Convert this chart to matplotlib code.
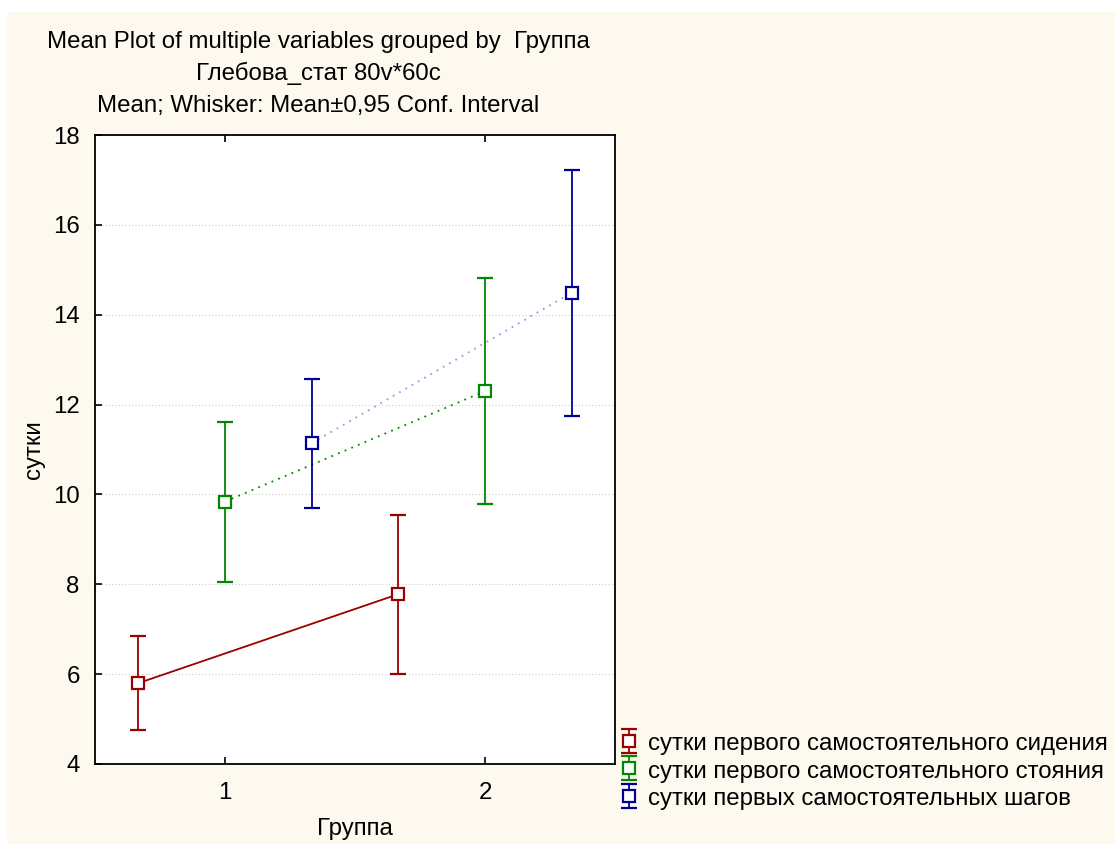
import matplotlib
matplotlib.use("Agg")
import matplotlib.pyplot as plt
from matplotlib.patches import Rectangle
import numpy as np

plt.rcParams['font.family'] = ['Liberation Sans', 'DejaVu Sans']

# group means and 0.95 confidence limits
groups = [1, 2]
series_names = [
    "сутки первого самостоятельного сидения",
    "сутки первого самостоятельного стояния",
    "сутки первых самостоятельных шагов",
]
sit_mean = [5.80, 7.78]
sit_low = [4.75, 6.00]
sit_high = [6.86, 9.55]
stand_mean = [9.84, 12.30]
stand_low = [8.05, 9.79]
stand_high = [11.62, 14.82]
steps_mean = [11.14, 14.49]
steps_low = [9.69, 11.75]
steps_high = [12.58, 17.22]

colors = ["#990000", "#008800", "#000099"]
line_colors = ["#990000", "#008800", "#9999dd"]
line_styles = ["-", (0, (1, 3)), (0, (1, 3))]
offsets = [-1/3, 0, 1/3]

FS = 17.3
W, H = 1115, 844
fig = plt.figure(figsize=(W/100, H/100), dpi=100, facecolor="white")
fig.patches.append(Rectangle((7/W, 0), 1, 1 - 12/H, transform=fig.transFigure,
                             facecolor="#fef9ee", edgecolor="none", zorder=-10))

ax = fig.add_axes([95/W, 80/H, 520/W, 629/H])
ax.set_facecolor("white")

means = [sit_mean, stand_mean, steps_mean]
lows = [sit_low, stand_low, steps_low]
highs = [sit_high, stand_high, steps_high]

handles = []
for i in range(3):
    x = np.array(groups) + offsets[i]
    m = np.array(means[i])
    err = [m - np.array(lows[i]), np.array(highs[i]) - m]
    ax.plot(x, m, color=line_colors[i], linestyle=line_styles[i], lw=1.3, zorder=2)
    eb = ax.errorbar(x, m, yerr=err, fmt="s", color=colors[i], ecolor=colors[i],
                     mfc="white", mec=colors[i], ms=8, mew=1.6, elinewidth=1.3,
                     capsize=6, capthick=1.3, zorder=3, label=series_names[i])
    handles.append(eb)

ax.set_xlim(0.5, 2.5)
ax.set_ylim(4, 18)
ax.set_xticks(groups)
ax.set_yticks(np.arange(4, 19, 2))
ax.yaxis.grid(True, linestyle=(0, (1, 2)), color="#cccccc", lw=0.8)
ax.set_axisbelow(True)
ax.tick_params(direction="in", length=5, width=1.2, labelsize=FS, top=True, right=False)
ax.tick_params(axis="y", pad=11)
ax.tick_params(axis="x", pad=13)
for s in ax.spines.values():
    s.set_linewidth(1.3)
ax.set_xlabel("Группа", fontsize=FS, labelpad=10)
ax.set_ylabel("сутки", fontsize=FS, labelpad=6)

cx = 318 / W
fig.text(cx, 1 - 42/H, "Mean Plot of multiple variables grouped by  Группа",
         ha="center", va="center", fontsize=FS)
fig.text(cx, 1 - 73/H, "Глебова_стат 80v*60c", ha="center", va="center", fontsize=FS)
fig.text(cx, 1 - 106/H, "Mean; Whisker: Mean±0,95 Conf. Interval",
         ha="center", va="center", fontsize=FS)

fig.legend(handles=handles, loc="upper left", bbox_to_anchor=(618/W, 1 - 732/H),
           frameon=False, fontsize=FS, handlelength=0.9, handleheight=0.9,
           handletextpad=0.35, labelspacing=0.17, borderpad=0, borderaxespad=0)

fig.savefig("out.png", dpi=100, facecolor=fig.get_facecolor())
